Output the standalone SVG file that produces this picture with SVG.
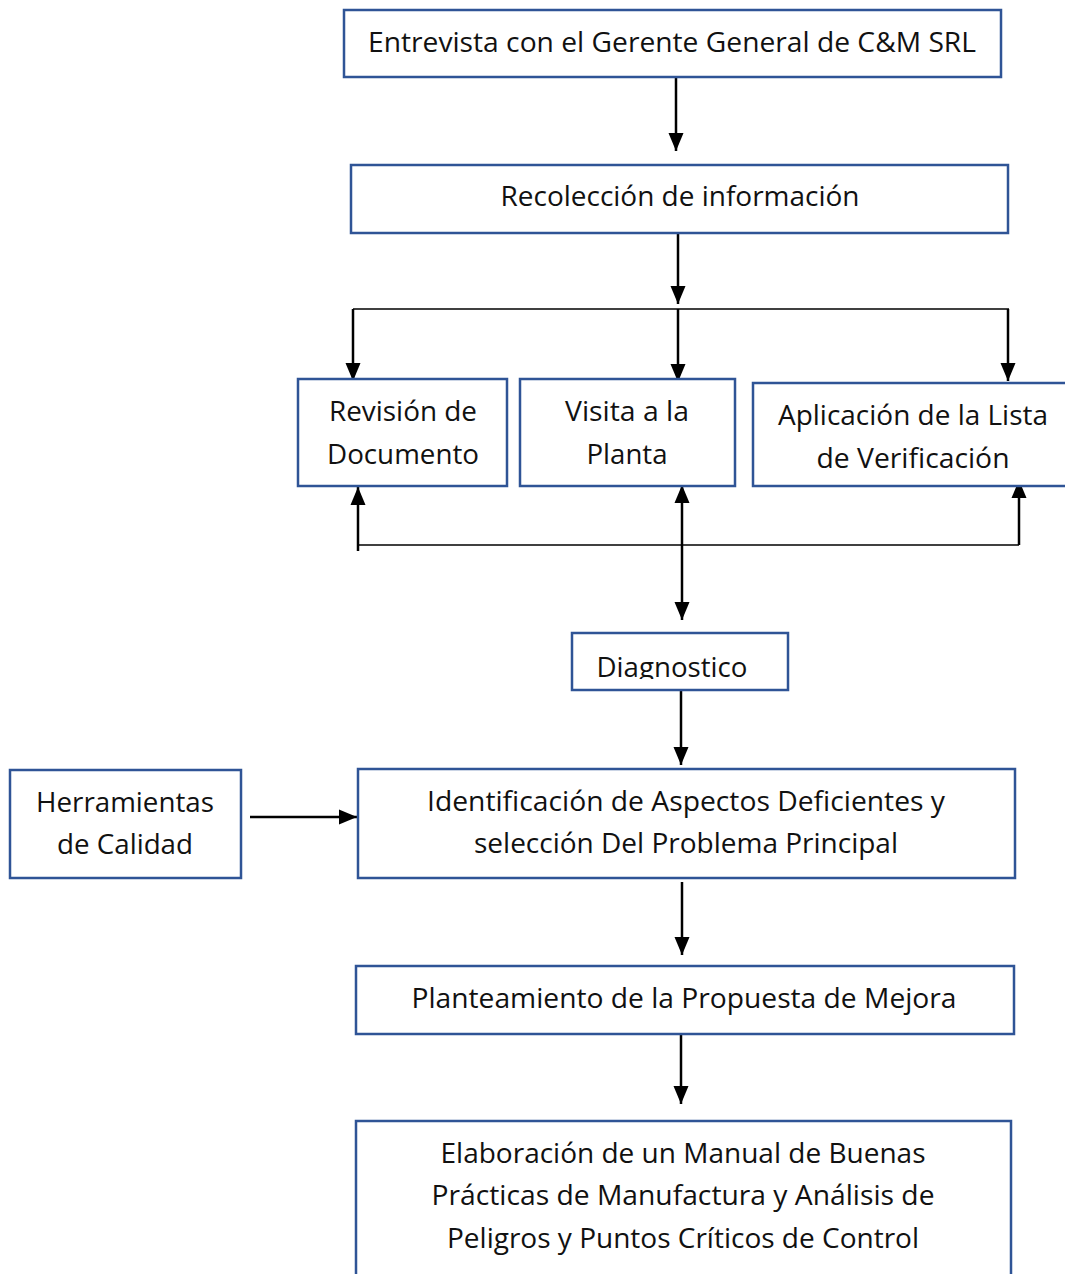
<svg xmlns="http://www.w3.org/2000/svg" width="1065" height="1274" viewBox="0 0 1065 1274">
  <style>
    .box { fill: #ffffff; stroke: #2F5496; stroke-width: 2.5; }
    .lbl { font-family: "Open Sans", "Noto Sans", sans-serif; font-size: 27.5px; fill: #111111; text-anchor: middle; }
    .wire { fill: none; stroke: #000000; stroke-width: 2.5; }
    .bus { fill: none; stroke: #000000; stroke-width: 1.6; }
  </style>
  <defs>
    <marker id="arrow" markerUnits="userSpaceOnUse" markerWidth="18" markerHeight="18" viewBox="0 0 18 18" refX="18" refY="9" orient="auto">
      <path d="M0,1.5 L18,9 L0,16.5 Z" fill="#000000"/>
    </marker>
    <marker id="arrowStart" markerUnits="userSpaceOnUse" markerWidth="18" markerHeight="18" viewBox="0 0 18 18" refX="0" refY="9" orient="auto">
      <path d="M18,1.5 L0,9 L18,16.5 Z" fill="#000000"/>
    </marker>
    <!-- the Diagnostico label is cut just under its baseline -->
    <clipPath id="diagClip">
      <rect x="572" y="633" width="216" height="46"/>
    </clipPath>
  </defs>
  <rect width="1065" height="1274" fill="#ffffff"/>

  <!-- connectors -->
  <g id="connectors">
    <line class="wire" x1="676" y1="78" x2="676" y2="151" marker-end="url(#arrow)"/>
    <line class="wire" x1="678" y1="234" x2="678" y2="304" marker-end="url(#arrow)"/>
    <line class="bus" x1="353" y1="309" x2="1009" y2="309"/>
    <line class="wire" x1="353" y1="309" x2="353" y2="381" marker-end="url(#arrow)"/>
    <line class="wire" x1="678" y1="309" x2="678" y2="382" marker-end="url(#arrow)"/>
    <line class="wire" x1="1008" y1="309" x2="1008" y2="381" marker-end="url(#arrow)"/>
    <line class="bus" x1="358" y1="545" x2="1019" y2="545"/>
    <line class="wire" x1="358" y1="551" x2="358" y2="487" marker-end="url(#arrow)"/>
    <line class="wire" x1="1019" y1="545" x2="1019" y2="480" marker-end="url(#arrow)"/>
    <line class="wire" x1="682" y1="485" x2="682" y2="620" marker-start="url(#arrowStart)" marker-end="url(#arrow)"/>
    <line class="wire" x1="681" y1="691" x2="681" y2="765" marker-end="url(#arrow)"/>
    <line class="wire" x1="250" y1="817" x2="357" y2="817" marker-end="url(#arrow)"/>
    <line class="wire" x1="682" y1="882" x2="682" y2="955" marker-end="url(#arrow)"/>
    <line class="wire" x1="681" y1="1034" x2="681" y2="1104" marker-end="url(#arrow)"/>
  </g>

  <g id="entrevista">
    <rect class="box" x="344" y="10" width="657" height="67"/>
    <text class="lbl" x="672" y="52" textLength="608" lengthAdjust="spacingAndGlyphs">Entrevista con el Gerente General de C&amp;M SRL</text>
  </g>

  <g id="recoleccion">
    <rect class="box" x="351" y="165" width="657" height="68"/>
    <text class="lbl" x="680" y="206" textLength="359" lengthAdjust="spacingAndGlyphs">Recolección de información</text>
  </g>

  <g id="revision">
    <rect class="box" x="298" y="379" width="209" height="107"/>
    <text class="lbl" x="403" y="421" textLength="148" lengthAdjust="spacingAndGlyphs">Revisión de</text>
    <text class="lbl" x="403" y="464" textLength="152" lengthAdjust="spacingAndGlyphs">Documento</text>
  </g>

  <g id="visita">
    <rect class="box" x="520" y="379" width="215" height="107"/>
    <text class="lbl" x="627" y="421" textLength="124" lengthAdjust="spacingAndGlyphs">Visita a la</text>
    <text class="lbl" x="627" y="464" textLength="81" lengthAdjust="spacingAndGlyphs">Planta</text>
  </g>

  <g id="aplicacion">
    <rect class="box" x="753" y="383" width="330" height="103"/>
    <text class="lbl" x="913" y="425" textLength="270" lengthAdjust="spacingAndGlyphs">Aplicación de la Lista</text>
    <text class="lbl" x="913" y="468" textLength="193" lengthAdjust="spacingAndGlyphs">de Verificación</text>
  </g>

  <g id="diagnostico">
    <rect class="box" x="572" y="633" width="216" height="57"/>
    <text class="lbl" x="672" y="677" textLength="151" lengthAdjust="spacingAndGlyphs" clip-path="url(#diagClip)">Diagnostico</text>
  </g>

  <g id="herramientas">
    <rect class="box" x="10" y="770" width="231" height="108"/>
    <text class="lbl" x="125" y="812" textLength="178" lengthAdjust="spacingAndGlyphs">Herramientas</text>
    <text class="lbl" x="125" y="854" textLength="136" lengthAdjust="spacingAndGlyphs">de Calidad</text>
  </g>

  <g id="identificacion">
    <rect class="box" x="358" y="769" width="657" height="109"/>
    <text class="lbl" x="686" y="811" textLength="518" lengthAdjust="spacingAndGlyphs">Identificación de Aspectos Deficientes y</text>
    <text class="lbl" x="686" y="853" textLength="424" lengthAdjust="spacingAndGlyphs">selección Del Problema Principal</text>
  </g>

  <g id="planteamiento">
    <rect class="box" x="356" y="966" width="658" height="68"/>
    <text class="lbl" x="684" y="1008" textLength="545" lengthAdjust="spacingAndGlyphs">Planteamiento de la Propuesta de Mejora</text>
  </g>

  <g id="elaboracion">
    <rect class="box" x="356" y="1121" width="655" height="170"/>
    <text class="lbl" x="683" y="1163" textLength="485" lengthAdjust="spacingAndGlyphs">Elaboración de un Manual de Buenas</text>
    <text class="lbl" x="683" y="1205" textLength="503" lengthAdjust="spacingAndGlyphs">Prácticas de Manufactura y Análisis de</text>
    <text class="lbl" x="683" y="1248" textLength="472" lengthAdjust="spacingAndGlyphs">Peligros y Puntos Críticos de Control</text>
  </g>
</svg>
